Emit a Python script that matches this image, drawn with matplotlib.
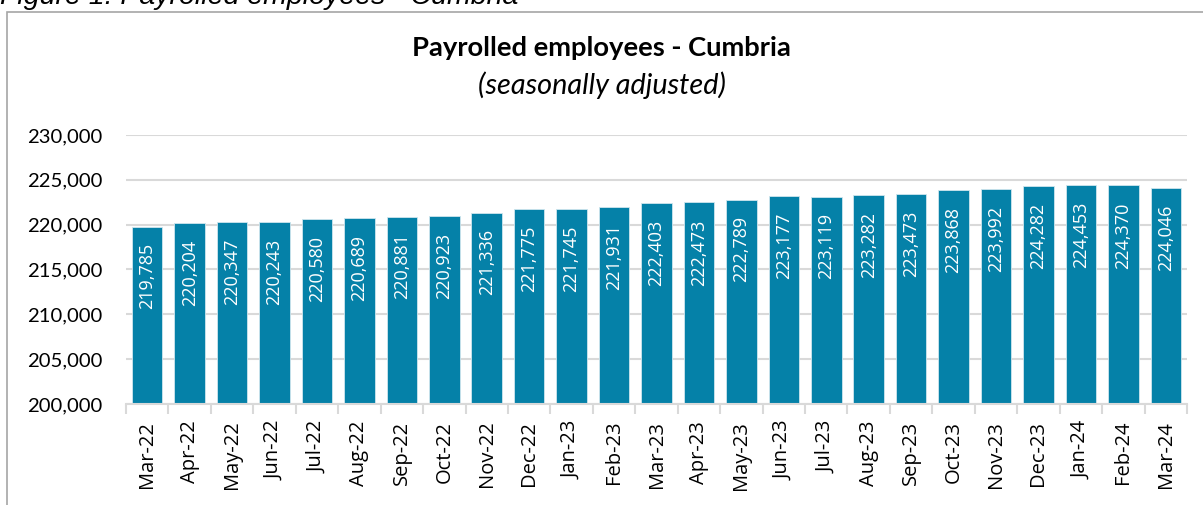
import matplotlib
matplotlib.use("Agg")
import matplotlib.pyplot as plt
from matplotlib.patches import Rectangle
from matplotlib.ticker import FuncFormatter, FixedLocator
import numpy as np

months = ["Mar-22", "Apr-22", "May-22", "Jun-22", "Jul-22", "Aug-22", "Sep-22",
          "Oct-22", "Nov-22", "Dec-22", "Jan-23", "Feb-23", "Mar-23", "Apr-23",
          "May-23", "Jun-23", "Jul-23", "Aug-23", "Sep-23", "Oct-23", "Nov-23",
          "Dec-23", "Jan-24", "Feb-24", "Mar-24"]
employees = [219785, 220204, 220347, 220243, 220580, 220689, 220881, 220923,
             221336, 221775, 221745, 221931, 222403, 222473, 222789, 223177,
             223119, 223282, 223473, 223868, 223992, 224282, 224453, 224370,
             224046]
title = "Payrolled employees - Cumbria"
subtitle = "(seasonally adjusted)"
caption = "Figure 1: Payrolled employees - Cumbria"

BAR = "#0581a8"
GRID = "#d9d9d9"
FONT = "Lato"
LABEL_FONT = "Open Sans"

fig = plt.figure(figsize=(12.03, 5.05), dpi=100)
ax = fig.add_axes([126/1203, 1-404/505, (1187-126)/1203, (404-135)/505])

x = np.arange(len(months))
ax.bar(x, employees, width=0.72, color=BAR, edgecolor="#cfe6ee", linewidth=0.6, zorder=3)

ax.set_ylim(200000, 230000)
ax.set_xlim(-0.5, len(months)-0.5)
ax.set_yticks(np.arange(200000, 230001, 5000))
ax.yaxis.set_major_formatter(FuncFormatter(lambda v, p: f"{int(v):,}"))
ax.grid(axis="y", color=GRID, linewidth=1.5, zorder=0)
ax.set_axisbelow(True)

for s in ["top", "right", "left"]:
    ax.spines[s].set_visible(False)
ax.spines["bottom"].set_color(GRID)
ax.spines["bottom"].set_linewidth(1.5)
ax.spines["bottom"].set_zorder(4)

ax.tick_params(axis="y", length=0, pad=17, labelsize=14.6, labelcolor="#000000")
for t in ax.get_yticklabels():
    t.set_fontfamily(FONT)

ax.xaxis.set_major_locator(FixedLocator(np.arange(-0.5, len(months), 1.0)))
ax.xaxis.set_major_formatter(FuncFormatter(lambda v, p: ""))
ax.xaxis.set_minor_locator(FixedLocator(x))
ax.set_xticks(x, minor=True)
ax.set_xticklabels(months, minor=True, rotation=90, fontsize=14.5, fontfamily=LABEL_FONT)
ax.tick_params(axis="x", which="major", length=7, width=1.5, color=GRID)
ax.tick_params(axis="x", which="minor", length=0, pad=12)

for xi, v in zip(x, employees):
    ax.annotate(f"{v:,}", xy=(xi, v), xytext=(0, -12), textcoords="offset points",
                rotation=90, ha="center", va="top", color="white",
                fontsize=13, fontfamily=LABEL_FONT, zorder=5)

fig.text(0.5, 1-48/505, title, ha="center", va="center", fontsize=19.7,
         fontweight="bold", fontfamily=FONT)
fig.text(0.5, 1-85/505, subtitle, ha="center", va="center", fontsize=20.8,
         style="italic", fontfamily=FONT)
fig.text(0/1203, 1-4/505, caption, ha="left", va="baseline", fontsize=20.5,
         style="italic", fontfamily="Liberation Sans")

fig.patches.append(Rectangle((7/1203, -0.05), 1.1, 1-12/505+0.05,
                             transform=fig.transFigure, fill=False,
                             edgecolor="#a6a6a6", linewidth=1.2))

fig.savefig("out.png", dpi=100)
